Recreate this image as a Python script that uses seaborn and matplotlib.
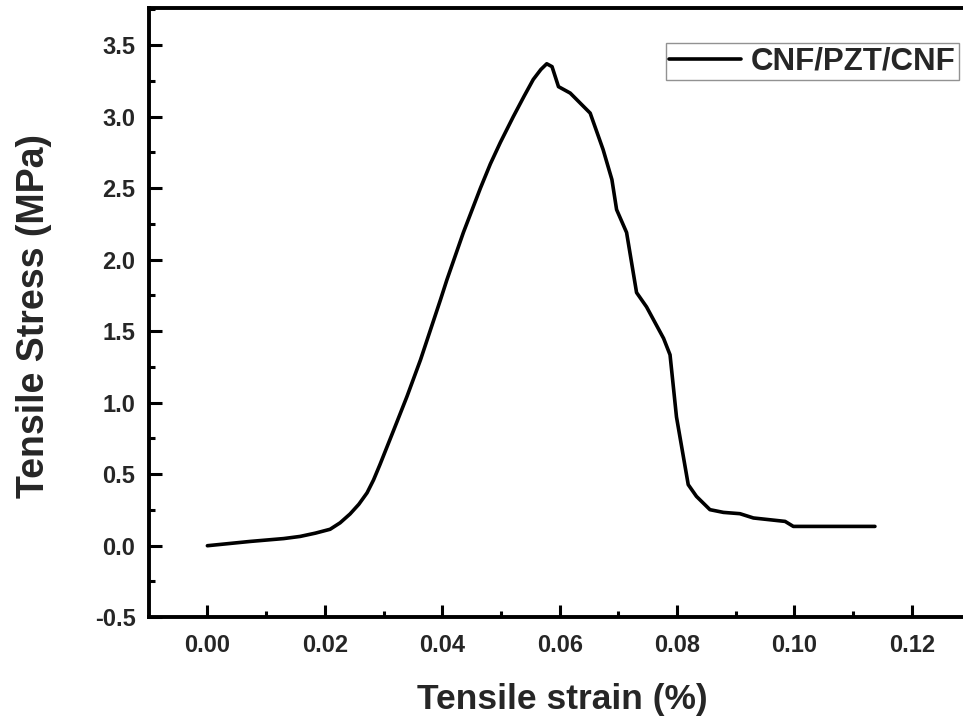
import matplotlib
matplotlib.use("Agg")
import matplotlib.pyplot as plt
from matplotlib.ticker import MultipleLocator, FormatStrFormatter
import seaborn as sns
import pandas as pd

strain = [0.0, 0.0073, 0.0130, 0.0158, 0.0184, 0.0209, 0.0226, 0.0243, 0.0258,
          0.0272, 0.0283, 0.0294, 0.0317, 0.0340, 0.0363, 0.0397, 0.0408, 0.0436,
          0.0465, 0.0482, 0.0499, 0.0521, 0.0539, 0.0555, 0.0568, 0.0578, 0.0587,
          0.0598, 0.0618, 0.0652, 0.0674, 0.0689, 0.0697, 0.0714, 0.0731, 0.0748,
          0.0777, 0.0788, 0.0799, 0.0819, 0.0833, 0.0856, 0.0879, 0.0907, 0.0930,
          0.0984, 0.0998, 0.1137]
stress = [0.0, 0.03, 0.05, 0.065, 0.088, 0.115, 0.16, 0.222, 0.29,
          0.37, 0.46, 0.568, 0.805, 1.044, 1.30, 1.72, 1.86, 2.19,
          2.50, 2.67, 2.82, 3.00, 3.14, 3.26, 3.33, 3.37, 3.35,
          3.21, 3.165, 3.025, 2.77, 2.56, 2.35, 2.19, 1.77, 1.67,
          1.45, 1.335, 0.90, 0.427, 0.345, 0.252, 0.233, 0.224, 0.194,
          0.17, 0.135, 0.135]
series_name = "CNF/PZT/CNF"

df = pd.DataFrame({"strain": strain, "stress": stress, "sample": series_name})

sns.set_theme(style="ticks")
plt.rcParams["font.family"] = ["Liberation Sans", "DejaVu Sans"]

fig = plt.figure(figsize=(9.63, 7.27), dpi=100)
ax = fig.add_axes([0.155, 0.151, 0.845, 0.838])

sns.lineplot(data=df, x="strain", y="stress", hue="sample", palette=["black"],
             sort=False, estimator=None, linewidth=2.6, ax=ax)

ax.set_xlim(-0.0099, 0.1287)
ax.set_ylim(-0.5, 3.76)
ax.xaxis.set_major_locator(MultipleLocator(0.02))
ax.xaxis.set_minor_locator(MultipleLocator(0.01))
ax.yaxis.set_major_locator(MultipleLocator(0.5))
ax.yaxis.set_minor_locator(MultipleLocator(0.25))
ax.xaxis.set_major_formatter(FormatStrFormatter("%.2f"))
ax.yaxis.set_major_formatter(FormatStrFormatter("%.1f"))

ax.tick_params(which="both", direction="in", width=2.2, color="black",
               top=False, right=False)
ax.tick_params(which="major", length=9)
ax.tick_params(which="minor", length=4.5)
ax.tick_params(axis="x", which="major", pad=12)
ax.tick_params(axis="y", which="major", pad=10)

for lab in ax.get_xticklabels():
    lab.set_fontweight("bold")
    lab.set_fontsize(17)
for lab in ax.get_yticklabels():
    lab.set_fontweight("bold")
    lab.set_fontsize(17)

for side in ["left", "bottom", "top"]:
    ax.spines[side].set_linewidth(2.8)
    ax.spines[side].set_color("black")
ax.spines["right"].set_visible(False)

ax.set_xlabel("Tensile strain (%)", fontsize=25.5, fontweight="bold", labelpad=14)
ax.set_ylabel("Tensile Stress (MPa)", fontsize=27, fontweight="bold")
ax.yaxis.set_label_coords(-0.12, 0.495)
ax.xaxis.set_label_coords(0.508, -0.108)

leg = ax.legend(loc="upper right", bbox_to_anchor=(0.999, 0.948), frameon=True,
                fancybox=False, edgecolor="#777777", handlelength=2.3,
                borderpad=0.12, handletextpad=0.3, borderaxespad=0.1,
                prop={"weight": "bold", "size": 22.5})
leg.get_frame().set_linewidth(1.0)

fig.savefig("out.png", dpi=100)
